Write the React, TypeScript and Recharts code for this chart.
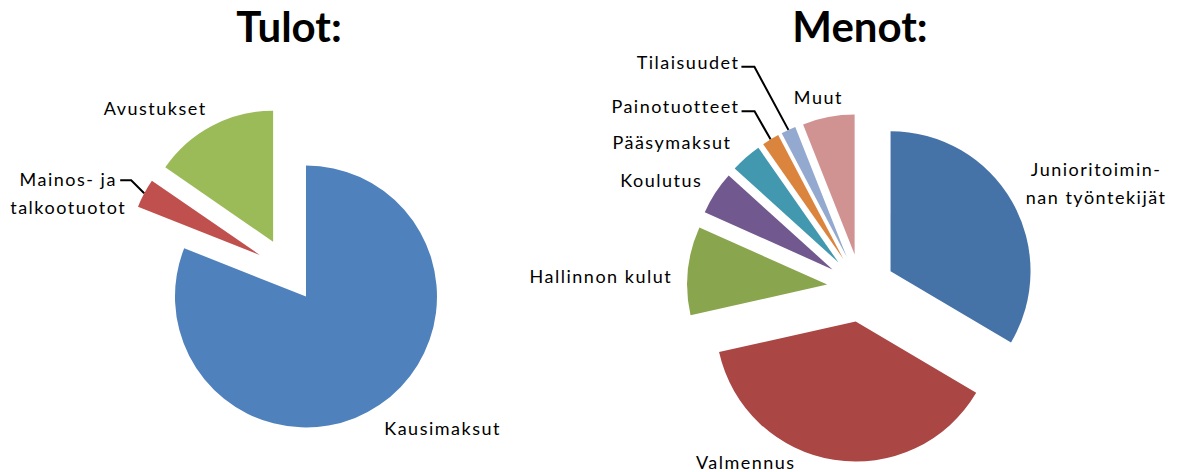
import React from "react";
import { PieChart, Pie, Cell, Sector } from "recharts";

// Tulot (income), share of total in %
const incomeNames = ["Kausimaksut", "Mainos- ja talkootuotot", "Avustukset"];
const incomeValues = [81, 3.6, 15.4];
const incomeColors = ["#4F81BD", "#C0504D", "#9BBB59"];

// Menot (expenses), share of total in %
const expenseNames = [
  "Junioritoiminnan työntekijät",
  "Valmennus",
  "Hallinnon kulut",
  "Koulutus",
  "Pääsymaksut",
  "Painotuotteet",
  "Tilaisuudet",
  "Muut",
];
const expenseValues = [33.5, 38, 10.2, 5, 3.6, 2, 1.7, 6];
const expenseColors = [
  "#4572A7",
  "#AA4643",
  "#89A54E",
  "#71588F",
  "#4198AF",
  "#DB843D",
  "#93A9CF",
  "#D19392",
];

// label text lines, one entry per slice
const incomeLabels = [["Kausimaksut"], ["Mainos- ja", "talkootuotot"], ["Avustukset"]];
const expenseLabels = [
  ["Junioritoimin-", "nan työntekijät"],
  ["Valmennus"],
  ["Hallinnon kulut"],
  ["Koulutus"],
  ["Pääsymaksut"],
  ["Painotuotteet"],
  ["Tilaisuudet"],
  ["Muut"],
];

const incomeData = incomeNames.map((name, i) => ({ name, value: incomeValues[i] }));
const expenseData = expenseNames.map((name, i) => ({ name, value: expenseValues[i] }));

// label placement relative to the exploded slice's outer midpoint
// leader: elbow offset (label text ends just left of it)
type LabelPos = { dx: number; dy: number; leader?: [number, number] };
const incomeLayout: LabelPos[] = [
  { dx: 63, dy: 23 },
  { dx: -76, dy: 0, leader: [-13, -13] },
  { dx: -57, dy: -18 },
];
const expenseLayout: LabelPos[] = [
  { dx: 84, dy: -19 },
  { dx: -88, dy: 2 },
  { dx: -87, dy: 5 },
  { dx: -54, dy: -13 },
  { dx: -74, dy: -15 },
  { dx: 0, dy: 0, leader: [-16, -28] },
  { dx: 0, dy: 0, leader: [-34, -63] },
  { dx: -10, dy: -20 },
];

const FONT = "Lato, 'Open Sans', sans-serif";
const RAD = Math.PI / 180;

const makeShape = (explode: number) => (props: any) => {
  const { cx, cy, midAngle } = props;
  const a = -midAngle * RAD;
  return (
    <Sector
      {...props}
      cx={cx + explode * Math.cos(a)}
      cy={cy + explode * Math.sin(a)}
      stroke="none"
    />
  );
};

const makeLabel =
  (explode: number, layout: LabelPos[], lines: string[][]) => (props: any) => {
    const { cx, cy, midAngle, outerRadius, index } = props;
    const a = -midAngle * RAD;
    const px = cx + (outerRadius + explode) * Math.cos(a);
    const py = cy + (outerRadius + explode) * Math.sin(a);
    const pos = layout[index];
    const txt = lines[index];
    const style = { fontFamily: FONT, fontSize: 18, letterSpacing: 1.5 };

    if (pos.leader && txt.length === 1) {
      const ex = px + pos.leader[0];
      const ey = py + pos.leader[1];
      return (
        <g key={`l-${index}`}>
          <path
            d={`M${ex - 13},${ey} L${ex},${ey} L${px},${py}`}
            stroke="#000"
            strokeWidth={2}
            fill="none"
          />
          <text
            x={ex - 15}
            y={ey - 5}
            textAnchor="end"
            dominantBaseline="central"
            fill="#000"
            style={style}
          >
            {txt[0]}
          </text>
        </g>
      );
    }

    const lx = px + pos.dx;
    const ly = py + pos.dy;
    const step = 28;
    const top = ly - ((txt.length - 1) * step) / 2;
    return (
      <g key={`l-${index}`}>
        {pos.leader && (
          <path
            d={`M${px + pos.leader[0] - 11},${py + pos.leader[1]} L${px + pos.leader[0]},${
              py + pos.leader[1]
            } L${px},${py}`}
            stroke="#000"
            strokeWidth={2}
            fill="none"
          />
        )}
        <text
          x={lx}
          y={top}
          textAnchor="middle"
          dominantBaseline="central"
          fill="#000"
          style={style}
        >
          {txt.map((t, i) => (
            <tspan key={i} x={lx} dy={i === 0 ? 0 : step}>
              {t}
            </tspan>
          ))}
        </text>
      </g>
    );
  };

const App: React.FC = () => {
  return (
    <div
      style={{
        position: "absolute",
        left: 0,
        top: 0,
        width: 1178,
        height: 472,
        background: "#fff",
      }}
    >
      <PieChart width={1178} height={472} margin={{ top: 0, right: 0, bottom: 0, left: 0 }}>
        <Pie
          data={incomeData}
          dataKey="value"
          nameKey="name"
          cx={288}
          cy={270}
          outerRadius={131}
          startAngle={90}
          endAngle={-270}
          stroke="none"
          shape={makeShape(32)}
          label={makeLabel(32, incomeLayout, incomeLabels)}
          labelLine={false}
          isAnimationActive={false}
        >
          {incomeData.map((d, i) => (
            <Cell key={d.name} fill={incomeColors[i]} />
          ))}
        </Pie>
        <Pie
          data={expenseData}
          dataKey="value"
          nameKey="name"
          cx={861}
          cy={288}
          outerRadius={140}
          startAngle={90}
          endAngle={-270}
          stroke="none"
          shape={makeShape(34)}
          label={makeLabel(34, expenseLayout, expenseLabels)}
          labelLine={false}
          isAnimationActive={false}
        >
          {expenseData.map((d, i) => (
            <Cell key={d.name} fill={expenseColors[i]} />
          ))}
        </Pie>
      </PieChart>
      <svg
        width={1178}
        height={472}
        style={{ position: "absolute", left: 0, top: 0, pointerEvents: "none" }}
      >
        <text
          x={289}
          y={42}
          textAnchor="middle"
          style={{ fontFamily: FONT, fontSize: 42, fontWeight: 700 }}
        >
          Tulot:
        </text>
        <text
          x={860}
          y={42}
          textAnchor="middle"
          style={{ fontFamily: FONT, fontSize: 42, fontWeight: 700 }}
        >
          Menot:
        </text>
      </svg>
    </div>
  );
};

export default App;
